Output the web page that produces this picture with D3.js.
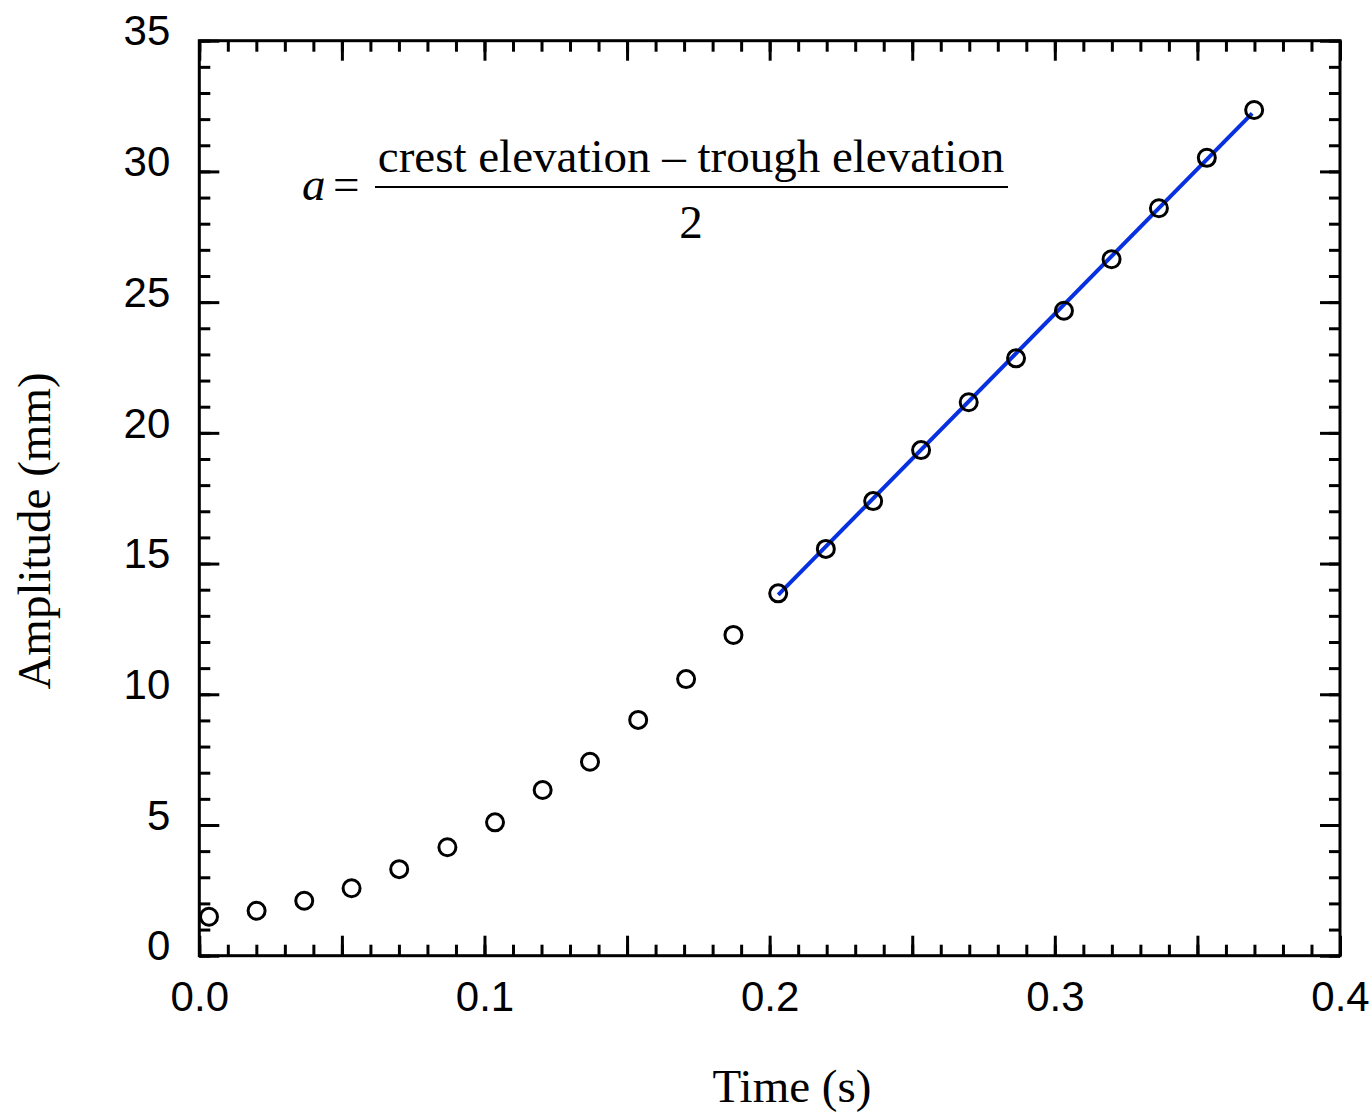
<!DOCTYPE html>
<html lang="en">
<head>
<meta charset="utf-8">
<title>Amplitude vs time</title>
<script src="https://cdn.jsdelivr.net/npm/d3@7"></script>
<style>
  body { margin: 0; background: #fff; }
  .tick-lbl text { font-family: "Liberation Sans", Arial, sans-serif; font-size: 42px; fill: #000; }
  .tick-lbl path, .tick-lbl line { stroke: none; }
  .ticks path { stroke: none; }
  .ticks line { stroke: #000; stroke-width: 3; }
  .title { font-family: "Liberation Serif", "Times New Roman", serif; font-size: 47px; fill: #000; }
</style>
</head>
<body>
<script>
// measured points: time (s) and amplitude (mm)
var times = [0.0034, 0.0201, 0.0368, 0.0534, 0.0701, 0.0870, 0.1037, 0.1204, 0.1370, 0.1539, 0.1707, 0.1873,
             0.2030, 0.2197, 0.2363, 0.2531, 0.2698, 0.2864, 0.3032, 0.3199, 0.3365, 0.3533, 0.3699];
var amps  = [1.49, 1.72, 2.10, 2.58, 3.31, 4.15, 5.10, 6.34, 7.42, 9.02, 10.58, 12.27,
             13.86, 15.56, 17.39, 19.34, 21.17, 22.85, 24.67, 26.64, 28.59, 30.52, 32.35];

// linear fit drawn over the late part
var fitTimes = [0.2030, 0.3692];
var fitAmps  = [13.80, 32.22];

var xLabels = [0, 0.1, 0.2, 0.3, 0.4];
var yLabels = [0, 5, 10, 15, 20, 25, 30, 35];
var xMinor = d3.range(0, 41).map(function (i) { return i / 100; });
var xMajor = d3.range(0, 9).map(function (i) { return i * 0.05; });
var yMinor = d3.range(0, 36);
var yMajor = d3.range(0, 36, 5);

var W = 1371, H = 1113;
var L = 199.3, R = 1340, T = 40.7, B = 955.7;

var x = d3.scaleLinear().domain([0, 0.4]).range([L, R]);
var y = d3.scaleLinear().domain([0, 35]).range([B, T]);

var svg = d3.select("body").append("svg")
  .attr("width", W)
  .attr("height", H);

// inward ticks on all four sides
function ticks(axis, tx, ty) {
  svg.append("g")
    .attr("class", "ticks")
    .attr("transform", "translate(" + tx + "," + ty + ")")
    .call(axis);
}
ticks(d3.axisBottom(x).tickValues(xMinor).tickSize(-11).tickFormat(""), 0, B);
ticks(d3.axisBottom(x).tickValues(xMajor).tickSize(-20).tickFormat(""), 0, B);
ticks(d3.axisTop(x).tickValues(xMinor).tickSize(-11).tickFormat(""), 0, T);
ticks(d3.axisTop(x).tickValues(xMajor).tickSize(-20).tickFormat(""), 0, T);
ticks(d3.axisLeft(y).tickValues(yMinor).tickSize(-11).tickFormat(""), L, 0);
ticks(d3.axisLeft(y).tickValues(yMajor).tickSize(-20).tickFormat(""), L, 0);
ticks(d3.axisRight(y).tickValues(yMinor).tickSize(-11).tickFormat(""), R, 0);
ticks(d3.axisRight(y).tickValues(yMajor).tickSize(-20).tickFormat(""), R, 0);

// frame
svg.append("rect")
  .attr("x", L).attr("y", T)
  .attr("width", R - L).attr("height", B - T)
  .attr("fill", "none")
  .attr("stroke", "#000")
  .attr("stroke-width", 3);

// tick labels
svg.append("g")
  .attr("class", "tick-lbl")
  .attr("transform", "translate(0," + B + ")")
  .call(d3.axisBottom(x).tickValues(xLabels).tickSize(0).tickPadding(25).tickFormat(d3.format(".1f")));

svg.append("g")
  .attr("class", "tick-lbl")
  .attr("transform", "translate(" + L + ",0)")
  .call(d3.axisLeft(y).tickValues(yLabels).tickSize(0).tickPadding(29).tickFormat(d3.format("d")))
  .selectAll("text").attr("dy", "0.1em");

// fit line
var line = d3.line()
  .x(function (d) { return x(d[0]); })
  .y(function (d) { return y(d[1]); });

svg.append("path")
  .datum(d3.zip(fitTimes, fitAmps))
  .attr("d", line)
  .attr("fill", "none")
  .attr("stroke", "#0630e0")
  .attr("stroke-width", 4);

// points
svg.append("g")
  .selectAll("circle")
  .data(d3.zip(times, amps))
  .enter().append("circle")
  .attr("cx", function (d) { return x(d[0]); })
  .attr("cy", function (d) { return y(d[1]); })
  .attr("r", 8.5)
  .attr("fill", "none")
  .attr("stroke", "#000")
  .attr("stroke-width", 3);

// axis titles
svg.append("text")
  .attr("class", "title")
  .attr("x", 792).attr("y", 1102)
  .attr("text-anchor", "middle")
  .text("Time (s)");

svg.append("text")
  .attr("class", "title")
  .attr("transform", "translate(50,531) rotate(-90)")
  .attr("text-anchor", "middle")
  .text("Amplitude (mm)");

// formula
var eq = svg.append("g").attr("class", "title");
eq.append("text")
  .attr("x", 302).attr("y", 200)
  .style("font-style", "italic")
  .text("a");
eq.append("text")
  .attr("x", 333).attr("y", 200)
  .text("=");
eq.append("line")
  .attr("x1", 375).attr("x2", 1008)
  .attr("y1", 187).attr("y2", 187)
  .attr("stroke", "#000")
  .attr("stroke-width", 2);
eq.append("text")
  .attr("x", 691).attr("y", 172)
  .attr("text-anchor", "middle")
  .text("crest elevation \u2013 trough elevation");
eq.append("text")
  .attr("x", 691).attr("y", 238)
  .attr("text-anchor", "middle")
  .text("2");
</script>
</body>
</html>
